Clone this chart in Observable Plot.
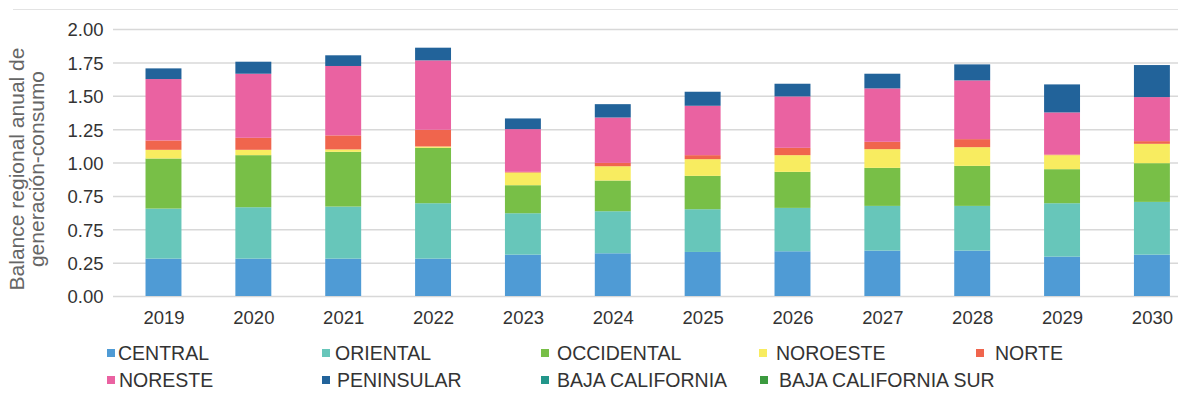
<!DOCTYPE html>
<html><head><meta charset="utf-8">
<script src="https://cdn.jsdelivr.net/npm/d3@7"></script>
<script src="https://cdn.jsdelivr.net/npm/@observablehq/plot@0.6"></script>
<style>
body{margin:0;background:#fff;font-family:"Liberation Sans",Arial,sans-serif;}
#wrap{position:relative;width:1178px;height:393px;overflow:hidden;background:#fff;}
#topline{position:absolute;left:13px;right:0;top:9px;border-top:1px solid #e3e3e3;}
#chart{position:absolute;left:0;top:0;}
.lt{position:absolute;font-size:19.5px;line-height:19px;color:#333;white-space:nowrap;}
.sw{position:absolute;width:8px;height:8px;}
</style></head><body>
<div id="wrap"><div id="topline"></div><div id="chart"></div><div id="legend"></div></div>
<script>
const years = ["2019","2020","2021","2022","2023","2024","2025","2026","2027","2028","2029","2030"];
const regions = ["CENTRAL","ORIENTAL","OCCIDENTAL","NOROESTE","NORTE","NORESTE","PENINSULAR","BAJA CALIFORNIA","BAJA CALIFORNIA SUR"];
const colors = ["#4f9bd5","#67c6ba","#78bf47","#f8ec60","#f0654d","#ea62a1","#22639a","#22968a","#3b9a3f"];
const CENTRAL    = [0.28,0.28,0.28,0.28,0.31,0.32,0.33,0.335,0.34,0.34,0.295,0.31];
const ORIENTAL   = [0.375,0.385,0.39,0.415,0.31,0.315,0.32,0.325,0.335,0.335,0.40,0.395];
const OCCIDENTAL = [0.375,0.39,0.41,0.415,0.21,0.23,0.25,0.27,0.285,0.30,0.255,0.29];
const NOROESTE   = [0.065,0.04,0.018,0.01,0.095,0.107,0.125,0.125,0.14,0.14,0.105,0.145];
const NORTE      = [0.07,0.09,0.105,0.125,0.005,0.025,0.03,0.055,0.055,0.06,0.005,0.02];
const NORESTE    = [0.46,0.48,0.52,0.52,0.32,0.34,0.37,0.385,0.40,0.44,0.315,0.33];
const PENINSULAR = [0.08,0.09,0.08,0.095,0.08,0.10,0.105,0.095,0.11,0.12,0.21,0.24];
const BAJA_CALIFORNIA     = [0,0,0,0,0,0,0,0,0,0,0,0];
const BAJA_CALIFORNIA_SUR = [0,0,0,0,0,0,0,0,0,0,0,0];
const yTicks = [0,0.25,0.5,0.75,1,1.25,1.5,1.75,2];
const yTickLabels = ["0.00","0.25","0.75","0.75","1.00","1.25","1.50","1.75","2.00"];
const yTitle = "Balance regional anual de\ngeneración-consumo";

const series = [CENTRAL,ORIENTAL,OCCIDENTAL,NOROESTE,NORTE,NORESTE,PENINSULAR,BAJA_CALIFORNIA,BAJA_CALIFORNIA_SUR];
const rows = [];
years.forEach((yr,i)=>regions.forEach((r,j)=>rows.push({year:yr,region:r,value:series[j][i]})));

const chart = Plot.plot({
  width:1178, height:330,
  marginLeft:113, marginRight:0, marginTop:29, marginBottom:34,
  style:{fontFamily:"'Liberation Sans',Arial,sans-serif",color:"#333",background:"transparent",overflow:"visible"},
  x:{type:"band",domain:years,range:[91.6,1223.8],padding:0.6,round:false,label:null},
  y:{domain:[0,2],label:null},
  color:{domain:regions,range:colors},
  marks:[
    Plot.gridY(yTicks,{stroke:"#d8d8d8",strokeOpacity:1,strokeWidth:1.5}),
    Plot.barY(rows,{x:"year",y:"value",fill:"region"}),
    Plot.axisY(yTicks,{tickSize:0,tickPadding:10,fontSize:18.5,fill:"#333",label:null,dy:1,tickFormat:(d,i)=>yTickLabels[i]}),
    Plot.axisX({tickSize:0,tickPadding:14,fontSize:18.5,fill:"#333",label:null}),
    Plot.text([yTitle],{frameAnchor:"left",textAnchor:"middle",lineAnchor:"middle",rotate:-90,dx:-86,dy:6,fontSize:21,lineHeight:0.95,fill:"#666",text:d=>d})
  ]
});
document.getElementById("chart").appendChild(chart);

const legendLayout = [
  [107,118,344],[322,335,344],[541,557,344],[759,776,344],[976,995,344],
  [107,119,371],[322,337,371],[541,557,371],[760,779,371]
];
const legendOrder = ["CENTRAL","ORIENTAL","OCCIDENTAL","NOROESTE","NORTE","NORESTE","PENINSULAR","BAJA CALIFORNIA","BAJA CALIFORNIA SUR"];
const leg = document.getElementById("legend");
legendOrder.forEach((name,k)=>{
  const [sx,tx,ty] = legendLayout[k];
  const sw = document.createElement("div");
  sw.className="sw"; sw.style.left=sx+"px"; sw.style.top=(ty+5)+"px";
  sw.style.background = colors[regions.indexOf(name)];
  const t = document.createElement("div");
  t.className="lt"; t.style.left=tx+"px"; t.style.top=ty+"px"; t.textContent=name;
  leg.appendChild(sw); leg.appendChild(t);
});
</script>
</body></html>
